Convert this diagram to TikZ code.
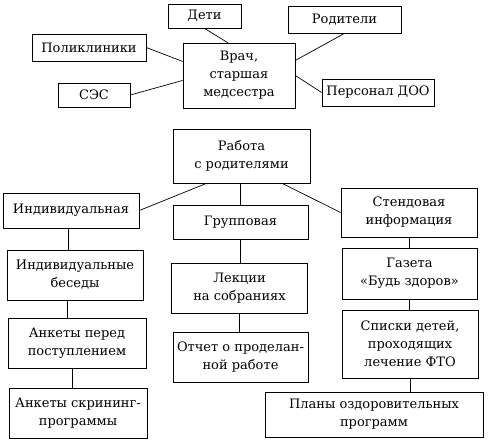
\documentclass[tikz,border=0pt]{standalone}
\usepackage{fontspec}
\setmainfont{DejaVu Serif}
\usepackage{tikz}
\usetikzlibrary{positioning}
\tikzset{
  box/.style={draw=black, line width=0.7pt, align=center, inner sep=1pt,
    font=\fontsize{13}{18}\selectfont},
  wh/.style 2 args={minimum width=#1pt, minimum height=#2pt},
  link/.style={draw=black, line width=0.7pt}
}
\begin{document}
\begin{tikzpicture}[x=1pt, y=-1pt]
\useasboundingbox (0,0) rectangle (490,445);
% верхний блок
\node[box, wh={73}{24}]  (deti)  at (204.5,16)  {Дети};
\node[box, wh={113}{27}] (rodit) at (344.5,19.5) {Родители};
\node[box, wh={114}{27}] (polik) at (89,47.5)   {Поликлиники};
\node[box, wh={112}{65}] (vrach) at (239,75.5)  {Врач,\\старшая\\медсестра};
\node[box, wh={72}{24}]  (ses)   at (94,95)     {СЭС};
\node[box, wh={112}{27}] (pers)  at (378,92.5)  {Персонал ДОО};
\draw[link] (deti.south) -- (vrach.109);
\draw[link] (polik.east) -- (vrach.166);
\draw[link] (ses.east) -- (vrach.185);
\draw[link] (rodit.south) -- (vrach.15);
\draw[link] (pers.west) -- (vrach.east);
% работа с родителями
\node[box, wh={137}{54}] (rabota) at (241.5,156) {Работа\\с родителями};
\node[box, wh={136}{35}] (indiv)  at (71,210.5)  {Индивидуальная};
\node[box, wh={135}{34}] (grupp)  at (240.5,222) {Групповая};
\node[box, wh={136}{49}] (stend)  at (409,212.5) {Стендовая\\информация};
\draw[link] (rabota.218) -- (indiv.east);
\draw[link] (grupp.north) -- (grupp.north |- rabota.south);
\draw[link] (rabota.-34) -- (stend.west);
% индивидуальная
\node[box, wh={136}{50}] (besedy) at (75,275)  {Индивидуальные\\беседы};
\node[box, wh={138}{50}] (anketa) at (77,343)  {Анкеты перед\\поступлением};
\node[box, wh={138}{50}] (skrin)  at (78,413)  {Анкеты скрининг-\\программы};
\draw[link] (indiv.260) -- (indiv.260 |- besedy.north);
\draw[link] (besedy.254) -- (besedy.254 |- anketa.north);
\draw[link] (anketa.259) -- (anketa.259 |- skrin.north);
% групповая
\node[box, wh={136}{50}] (lekcii) at (239.5,288) {Лекции\\на собраниях};
\node[box, wh={135}{50}] (otchet) at (240.5,357) {Отчет о проделан-\\ной работе};
\draw[link] (grupp.south) -- (grupp.south |- lekcii.north);
\draw[link] (lekcii.south) -- (lekcii.south |- otchet.north);
% стендовая
\node[box, wh={135}{51}]  (gazeta) at (409.5,273.5) {Газета\\«Будь здоров»};
\node[box, wh={136}{68}]  (spiski) at (410,344)     {Списки детей,\\проходящих\\лечение ФТО};
\node[box, wh={218}{45}]  (plany)  at (374,414.5)   {Планы оздоровительных\\программ};
\draw[link] (stend.south) -- (stend.south |- gazeta.north);
\draw[link] (gazeta.south) -- (gazeta.south |- spiski.north);
\draw[link] (spiski.south) -- (spiski.south |- plany.north);
\end{tikzpicture}
\end{document}
